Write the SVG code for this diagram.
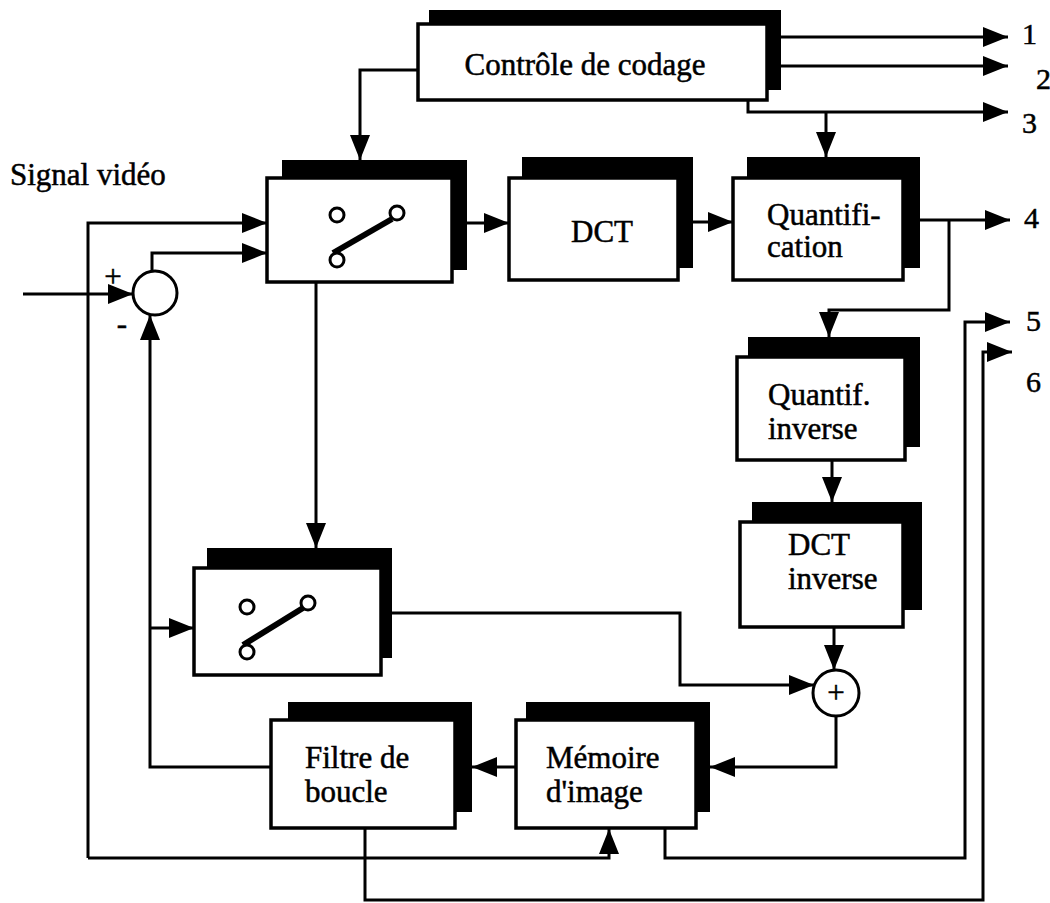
<svg xmlns="http://www.w3.org/2000/svg" width="1050" height="903" viewBox="0 0 1050 903">
<style>
.bg{fill:#fff}
.box{fill:#fff;stroke:#000;stroke-width:3.5}
.sh{fill:#000}
.ln{fill:none;stroke:#000;stroke-width:3}
.sw{fill:#fff;stroke:#000;stroke-width:3}
.lever{stroke:#000;stroke-width:6;stroke-linecap:butt}
text{font-family:"Liberation Serif","Times New Roman",serif;font-size:31px;fill:#000;stroke:#000;stroke-width:0.5}
.lbl{font-size:30px}
</style>
<defs>
<marker id="ah" markerUnits="userSpaceOnUse" markerWidth="26" markerHeight="20" refX="25" refY="10" orient="auto">
<path d="M0,0 L25,10 L0,20 z" fill="#000"/>
</marker>
</defs>
<rect class="bg" x="0" y="0" width="1050" height="903"/>

<g id="connectors">
<path class="ln" d="M418,70 H360 V160" marker-end="url(#ah)"/>
<path class="ln" d="M781,37 H1008" marker-end="url(#ah)"/>
<path class="ln" d="M781,66 H1008" marker-end="url(#ah)"/>
<path class="ln" d="M748,100 V112 H1008" marker-end="url(#ah)"/>
<path class="ln" d="M826,112 V157" marker-end="url(#ah)"/>
<path class="ln" d="M23,294 H133" marker-end="url(#ah)"/>
<path class="ln" d="M152,270 V253 H267" marker-end="url(#ah)"/>
<path class="ln" d="M88,858 V223 H267" marker-end="url(#ah)"/>
<path class="ln" d="M88,858 H609 V829" marker-end="url(#ah)"/>
<path class="ln" d="M467,223 H509" marker-end="url(#ah)"/>
<path class="ln" d="M693,222 H733" marker-end="url(#ah)"/>
<path class="ln" d="M920,220 H1010" marker-end="url(#ah)"/>
<path class="ln" d="M949,220 V310 H829 V337" marker-end="url(#ah)"/>
<path class="ln" d="M832,460 V502" marker-end="url(#ah)"/>
<path class="ln" d="M834,627 V670" marker-end="url(#ah)"/>
<path class="ln" d="M316,282 V548" marker-end="url(#ah)"/>
<path class="ln" d="M150,628 H194" marker-end="url(#ah)"/>
<path class="ln" d="M392,613 H680 V685 H814" marker-end="url(#ah)"/>
<path class="ln" d="M836,716 V767 H710" marker-end="url(#ah)"/>
<path class="ln" d="M516,767 H472" marker-end="url(#ah)"/>
<path class="ln" d="M271,767 H150 V315" marker-end="url(#ah)"/>
<path class="ln" d="M665,828 V858 H965 V322 H1010" marker-end="url(#ah)"/>
<path class="ln" d="M365,828 V900 H983 V352 H1012" marker-end="url(#ah)"/>
</g>

<g id="labels">
<text x="10" y="185">Signal vidéo</text>
<text x="113" y="287" text-anchor="middle" font-size="26">+</text>
<text x="122" y="334" text-anchor="middle" font-size="26">-</text>
<text class="lbl" x="1022" y="44">1</text>
<text class="lbl" x="1036" y="89">2</text>
<text class="lbl" x="1022" y="133">3</text>
<text class="lbl" x="1024" y="228">4</text>
<text class="lbl" x="1026" y="331">5</text>
<text class="lbl" x="1026" y="392">6</text>
</g>

<g id="control">
<rect class="sh" x="429" y="10" width="352" height="80"/>
<rect class="box" x="418" y="24" width="349" height="76"/>
<text x="585" y="75" text-anchor="middle">Contrôle de codage</text>
</g>

<g id="switch1">
<rect class="sh" x="282" y="160" width="185" height="110"/>
<rect class="box" x="267" y="178" width="185" height="104"/>
<line class="lever" x1="333" y1="253" x2="392" y2="219"/>
<circle class="sw" cx="337" cy="215" r="7"/>
<circle class="sw" cx="397" cy="213" r="7"/>
<circle class="sw" cx="337" cy="260" r="7"/>
</g>

<g id="dct">
<rect class="sh" x="522" y="157" width="171" height="111"/>
<rect class="box" x="509" y="178" width="169" height="102"/>
<text x="602" y="242" text-anchor="middle">DCT</text>
</g>

<g id="quant">
<rect class="sh" x="747" y="157" width="173" height="111"/>
<rect class="box" x="733" y="178" width="170" height="102"/>
<text x="767" y="225">Quantifi-<tspan x="767" dy="32">cation</tspan></text>
</g>

<g id="qinv">
<rect class="sh" x="748" y="337" width="172" height="110"/>
<rect class="box" x="737" y="357" width="168" height="103"/>
<text x="768" y="405">Quantif.<tspan x="768" dy="34">inverse</tspan></text>
</g>

<g id="dctinv">
<rect class="sh" x="752" y="502" width="170" height="108"/>
<rect class="box" x="740" y="522" width="163" height="105"/>
<text x="788" y="555">DCT<tspan x="788" dy="34">inverse</tspan></text>
</g>

<g id="switch2">
<rect class="sh" x="207" y="548" width="185" height="110"/>
<rect class="box" x="194" y="568" width="187" height="107"/>
<line class="lever" x1="243" y1="645" x2="303" y2="608"/>
<circle class="sw" cx="247" cy="607" r="7"/>
<circle class="sw" cx="308" cy="603" r="7"/>
<circle class="sw" cx="247" cy="652" r="7"/>
</g>

<g id="filtre">
<rect class="sh" x="288" y="702" width="184" height="110"/>
<rect class="box" x="271" y="720" width="184" height="108"/>
<text x="305" y="768">Filtre de<tspan x="305" dy="34">boucle</tspan></text>
</g>

<g id="memoire">
<rect class="sh" x="526" y="702" width="184" height="110"/>
<rect class="box" x="516" y="720" width="180" height="108"/>
<text x="546" y="768">Mémoire<tspan x="546" dy="34">d'image</tspan></text>
</g>

<g id="sum1">
<circle class="sw" cx="155" cy="293" r="22"/>
</g>

<g id="sum2">
<circle class="sw" cx="836" cy="693" r="23"/>
<text x="836" y="703" text-anchor="middle" font-size="26">+</text>
</g>
</svg>
